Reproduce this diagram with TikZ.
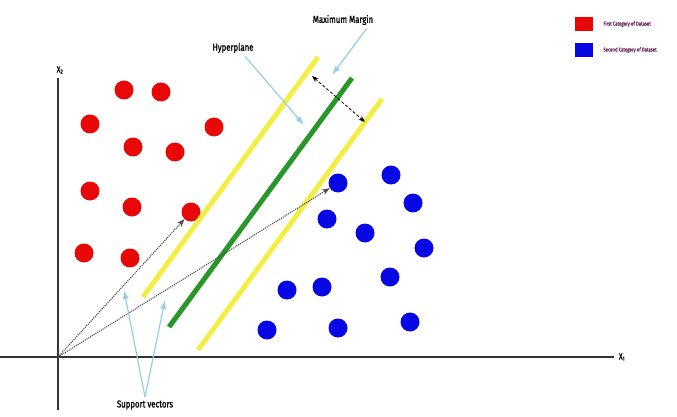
\documentclass[tikz,border=0pt]{standalone}
\usepackage{fontspec}
\setmainfont{Fira Sans}
\newfontfamily\narrowfont[FakeStretch=0.78, FakeBold=1.2]{Fira Sans}
\usetikzlibrary{arrows.meta}

\definecolor{dotred}{RGB}{232,8,8}
\definecolor{dotblue}{RGB}{8,8,228}
\definecolor{planeyellow}{RGB}{242,238,70}
\definecolor{planegreen}{RGB}{40,150,40}
\definecolor{pointerblue}{RGB}{150,205,235}
\definecolor{keytext}{RGB}{110,40,90}

\begin{document}
\begin{tikzpicture}[x=1pt,y=-1pt,
    font=\narrowfont,
    reddot/.style={circle, fill=dotred, minimum size=19pt, inner sep=0pt},
    bluedot/.style={circle, fill=dotblue, minimum size=19pt, inner sep=0pt},
    pointer/.style={pointerblue, line width=1.2pt, -{Latex[length=9pt,width=6pt]}},
    keybox/.style={minimum width=18pt, minimum height=14pt, inner sep=0pt}]
    \useasboundingbox (0,0) rectangle (677,417);
    % axes
    \draw [line width=2.4pt, black!80] (58,410) -- (58,78);
    \draw [line width=2.4pt, black!80] (0,357) -- (614,357);
    \node (ytxt) at (60,70) {\fontsize{9}{10}\selectfont X\textsubscript{2}};
    \node (xtxt) at (622,357) {\fontsize{9}{10}\selectfont X\textsubscript{1}};
    \coordinate (o) at (58,357);
    % data points
    \foreach \x/\y [count=\i] in {124/90, 161/92, 90/124, 214/127, 133/147, 175/152,
        90/191, 132/207, 191/212, 84/253, 130/258}
        \node [reddot] (r\i) at (\x,\y) {};
    \foreach \x/\y [count=\i] in {338/183, 391/175, 413/203, 327/219, 365/233, 424/248,
        390/277, 287/290, 322/287, 267/330, 338/328, 410/322}
        \node [bluedot] (b\i) at (\x,\y) {};
    % margins and hyperplane
    \draw [planeyellow, line width=5pt] (143,297) -- (318,57);
    \draw [planeyellow, line width=5pt] (198,350) -- (382,99);
    \draw [planegreen, line width=5pt] (169,327) -- (352,78);
    \coordinate (m1) at (312,76);
    \coordinate (m2) at (365,122);
    \draw [densely dashed, thick, <->, >=Stealth] (m1) -- (m2);
    % support vectors
    \draw [densely dotted, line width=1.1pt, gray!60!black, -Stealth] (o) -- (r9);
    \draw [densely dotted, line width=1.1pt, gray!60!black, -Stealth] (o) -- (b1);
    % labels
    \node (hyp) at (233,48) {\fontsize{10}{12}\selectfont Hyperplane};
    \coordinate (hypend) at (304,125);
    \draw [pointer] ([xshift=12pt]hyp.south) -- (hypend);
    \node (mm) at (343,20) {\fontsize{10}{12}\selectfont Maximum Margin};
    \coordinate (mmend) at (332,75);
    \draw [pointer] ([xshift=-10pt]mm.south east) -- (mmend);
    \node (sv) at (145,405) {\fontsize{10}{12}\selectfont Support vectors};
    \coordinate (sv1) at (124,290);
    \coordinate (sv2) at (165,300);
    \draw [pointer] (sv.north) -- (sv1);
    \draw [pointer] (sv.north) -- (sv2);
    % key
    \node [keybox, fill=dotred] (k1) at (584,24) {};
    \node [keybox, fill=dotblue] (k2) at (584,50) {};
    \node [anchor=west, inner sep=0pt, keytext] at ([xshift=10pt]k1.east)
        {\fontsize{5.5}{6}\selectfont First Category of Dataset};
    \node [anchor=west, inner sep=0pt, keytext] at ([xshift=10pt]k2.east)
        {\fontsize{5.5}{6}\selectfont Second Category of Dataset};
\end{tikzpicture}
\end{document}
